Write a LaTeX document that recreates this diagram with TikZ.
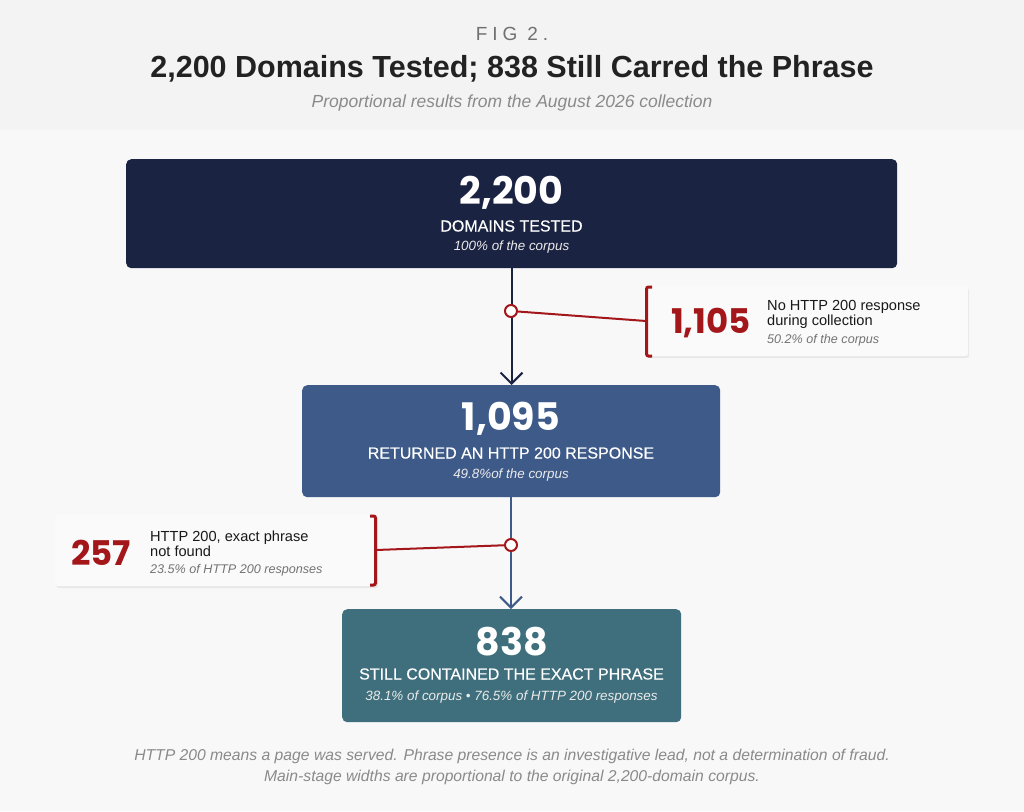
\documentclass[tikz,border=0pt]{standalone}
\usepackage{fontspec}
\setmainfont{Liberation Sans}
\newfontfamily\numfont{Poppins}
\newfontfamily\medfont[FakeBold=0.35]{Liberation Sans}
\usetikzlibrary{arrows.meta,shadows}
\definecolor{bgmain}{HTML}{F8F8F9}
\definecolor{bghead}{HTML}{F3F3F3}
\definecolor{navy}{HTML}{1B2342}
\definecolor{stageblue}{HTML}{3D5A89}
\definecolor{stageteal}{HTML}{3F6F7D}
\definecolor{alertred}{HTML}{A3161A}
\definecolor{titlegray}{HTML}{222222}
\definecolor{figgray}{HTML}{707070}
\definecolor{subgray}{HTML}{8A8A8A}
\definecolor{sidebg}{HTML}{FAFAFA}
\tikzset{
  stage/.style={rounded corners=5pt, draw=none, anchor=north west, inner sep=0pt},
  bignum/.style={text=white, font=\numfont\bfseries\fontsize{38}{42}\selectfont, inner sep=0pt},
  stagelabel/.style={text=white, font=\medfont\fontsize{16}{19}\selectfont, inner sep=0pt},
  stagenote/.style={text=white!92!black, font=\itshape\fontsize{13.4}{15}\selectfont, inner sep=0pt},
  sidebox/.style={fill=sidebg, draw=none, rounded corners=3pt, anchor=north west, inner sep=0pt,
    drop shadow={opacity=0.13, shadow xshift=1pt, shadow yshift=-2pt}},
  sidenum/.style={text=alertred, font=\numfont\bfseries\fontsize{34}{36}\selectfont, inner sep=0pt},
  sidetext/.style={text=black!90, font=\fontsize{14.6}{15}\selectfont, align=left, inner sep=0pt},
  sidenote/.style={text=black!55, font=\itshape\fontsize{12.6}{14}\selectfont, inner sep=0pt},
  flowarrow/.style={line width=2pt, -{Straight Barb[length=11pt,width=22pt,line width=2pt]}},
  redlink/.style={alertred, line width=2pt},
  joint/.style={circle, draw=alertred, fill=white, line width=2pt, minimum size=12pt, inner sep=0pt},
  bracket/.style={alertred, line width=3pt, rounded corners=2pt},
  footnote/.style={text=subgray, font=\itshape\fontsize{15.7}{21}\selectfont, inner sep=0pt},
}
\begin{document}
\begin{tikzpicture}[x=1pt, y=-1pt]
\fill[bgmain] (0,0) rectangle (1024,811);
\fill[bghead] (0,0) rectangle (1024,130);
\useasboundingbox (0,0) rectangle (1024,811);

% header
\node[text=figgray, font=\fontsize{19}{22}\selectfont, inner sep=0pt] (fig) at (512,34) {F\hspace{5pt}I\hspace{5pt}G\hspace{10pt}2\hspace{5pt}.};
\node[text=titlegray, font=\bfseries\fontsize{30.5}{34}\selectfont, inner sep=0pt] (title) at (512,69) {2,200 Domains Tested; 838 Still Carred the Phrase};
\node[text=subgray, font=\itshape\fontsize{17.5}{20}\selectfont, inner sep=0pt] (subtitle) at (512,103) {Proportional results from the August 2026 collection};

% stage 1
\node[stage, fill=navy, minimum width=771pt, minimum height=109pt] (b1) at (126,159) {};
\node[bignum] (n1) at (511.5,193) {2,200};
\node[stagelabel] (l1) at (511.5,226) {DOMAINS TESTED};
\node[stagenote] (p1) at (511.5,247) {100\% of the corpus};

% stage 2
\node[stage, fill=stageblue, minimum width=418pt, minimum height=112pt] (b2) at (302,385) {};
\node[bignum] (n2) at (511,419) {1,095};
\node[stagelabel] (l2) at (511,453) {RETURNED AN HTTP 200 RESPONSE};
\node[stagenote] (p2) at (511,475) {49.8\%of the corpus};

% stage 3
\node[stage, fill=stageteal, minimum width=339pt, minimum height=113pt] (b3) at (342,609) {};
\node[bignum] (n3) at (511.5,642) {838};
\node[stagelabel] (l3) at (511.5,674) {STILL CONTAINED THE EXACT PHRASE};
\node[stagenote] (p3) at (511.5,697) {38.1\% of corpus \textbullet\ 76.5\% of HTTP 200 responses};

% flow arrows
\draw[flowarrow, navy] (b1.south -| n1) -- (b2.north -| n1);
\draw[flowarrow, stageblue] (b2.south -| n2) -- (b3.north -| n2);

% side box 1
\node[sidebox, minimum width=323pt, minimum height=70pt] (s1) at (645,286) {};
\draw[bracket] (652,287) -- (646.5,287) -- (646.5,356) -- (652,356);
\coordinate (s1b) at (646,321);
\node[sidenum, anchor=west] (s1n) at (671,323) {1,105};
\node[sidetext, anchor=west] (s1t) at (767,314) {No HTTP 200 response\\during collection};
\node[sidenote, anchor=west] (s1p) at (767,340) {50.2\% of the corpus};
\node[joint] (c1) at (511,311) {};
\draw[redlink] (c1) -- (s1b);

% side box 2
\node[sidebox, minimum width=322pt, minimum height=71pt] (s2) at (55,515) {};
\draw[bracket] (370,516) -- (375.5,516) -- (375.5,585) -- (370,585);
\coordinate (s2b) at (376,550);
\node[sidenum, anchor=west] (s2n) at (71,553) {257};
\node[sidetext, anchor=west] (s2t) at (150,544) {HTTP 200, exact phrase\\not found};
\node[sidenote, anchor=west] (s2p) at (150,570) {23.5\% of HTTP 200 responses};
\node[joint] (c2) at (511,545) {};
\draw[redlink] (c2) -- (s2b);

% footer
\node[footnote, align=center] (foot) at (512,767) {HTTP 200 means a page was served. Phrase presence is an investigative lead, not a determination of fraud.\\Main-stage widths are proportional to the original 2,200-domain corpus.};
\end{tikzpicture}
\end{document}
